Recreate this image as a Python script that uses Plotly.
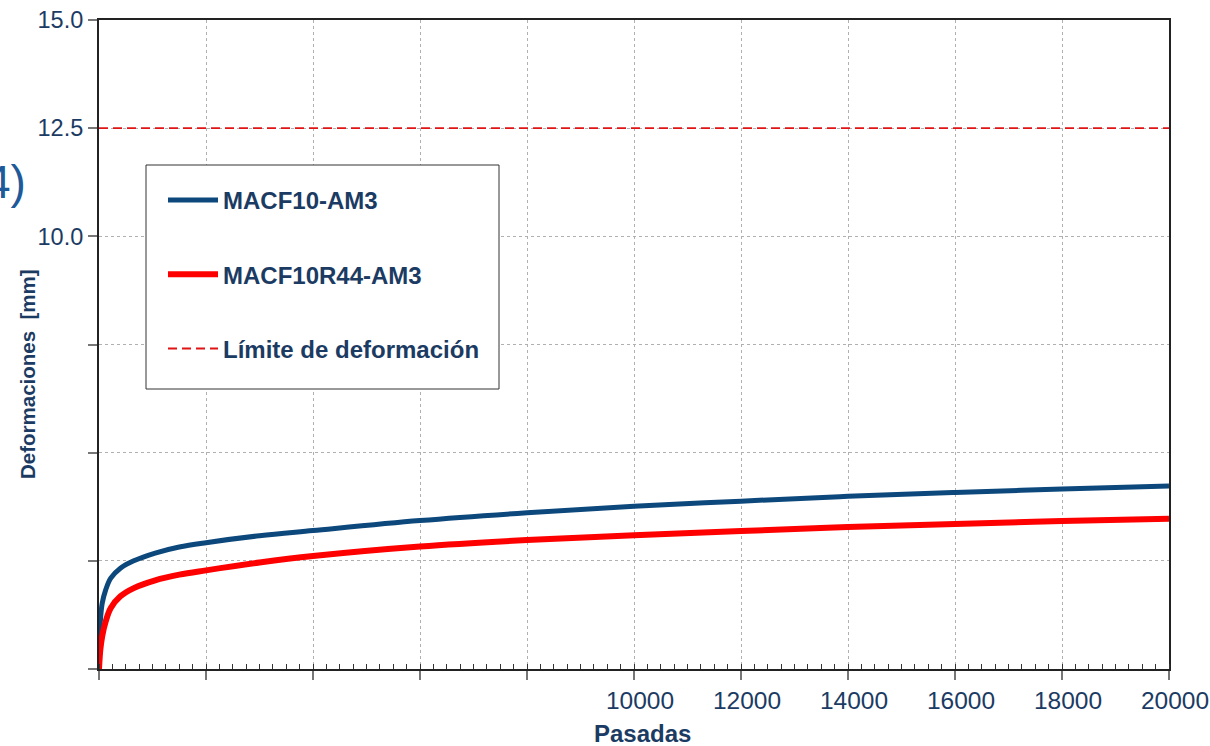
import plotly.graph_objects as go

# ---- data ----
passes = [0, 25, 60, 125, 220, 400, 650, 1050, 1500, 2000, 3000, 4000,
          6000, 8000, 10000, 12000, 14000, 16000, 18000, 20000]
macf10_am3 = [0, 1.10, 1.52, 1.83, 2.10, 2.33, 2.50, 2.68, 2.82, 2.92, 3.08, 3.20,
              3.43, 3.61, 3.76, 3.88, 3.99, 4.08, 4.16, 4.23]
macf10r44_am3 = [0, 0.45, 0.76, 1.10, 1.41, 1.68, 1.87, 2.05, 2.18, 2.28, 2.46, 2.61,
                 2.83, 2.98, 3.09, 3.19, 3.28, 3.35, 3.42, 3.47]
limit_x = [0, 20000]
limit_y = [12.5, 12.5]

x_tickvals = [0, 2000, 4000, 6000, 8000, 10000, 12000, 14000, 16000, 18000, 20000]
x_ticktext = ["", "", "", "", "", "10000", "12000", "14000", "16000", "18000", "20000"]
y_tickvals = [0, 2.5, 5, 7.5, 10, 12.5, 15]
y_ticktext = ["", "", "", "", "10.0", "12.5", "15.0"]

names = ["MACF10-AM3", "MACF10R44-AM3", "Límite de deformación"]

TXT = "#1b3b63"
BLUE = "#0d487c"
RED = "#ff0000"
FONT = "Liberation Sans, Arial, sans-serif"

fig = go.Figure()
fig.add_trace(go.Scatter(x=passes, y=macf10_am3, mode="lines", name=names[0],
                         legendgroup="a",
                         line=dict(color=BLUE, width=5, shape="spline", smoothing=1)))
fig.add_trace(go.Scatter(x=passes, y=macf10r44_am3, mode="lines", name=names[1],
                         legendgroup="b",
                         line=dict(color=RED, width=6, shape="spline", smoothing=1)))
fig.add_trace(go.Scatter(x=limit_x, y=limit_y, mode="lines", name=names[2],
                         legendgroup="c",
                         line=dict(color="#e01414", width=1.8, dash="9px,5px")))

L, R, T, B = 99, 41, 20, 77
W, H = 1210, 746
PW, PH = W - L - R, H - T - B


def px(xp):
    return (xp - L) / PW


def py(yp):
    return (H - B - yp) / PH


# legend frame
fig.add_shape(type="rect", xref="paper", yref="paper",
              x0=px(146), x1=px(499), y0=py(389), y1=py(165),
              line=dict(color="#333333", width=1), fillcolor="white", layer="above")

fig.update_layout(
    width=W, height=H,
    margin=dict(l=L, r=R, t=T, b=B, autoexpand=False),
    paper_bgcolor="white", plot_bgcolor="white",
    showlegend=True,
    legend=dict(x=px(163), y=py(178), xanchor="left", yanchor="top",
                bgcolor="rgba(0,0,0,0)", borderwidth=0,
                font=dict(family=FONT, size=24, color=TXT, weight="bold"),
                traceorder="grouped", tracegroupgap=40, itemwidth=50),
    xaxis=dict(range=[0, 20000], tickvals=x_tickvals, ticktext=x_ticktext,
               automargin=False,
               showline=True, linecolor="#222222", linewidth=2, mirror=True,
               ticks="outside", ticklen=9, tickwidth=2, tickcolor="#777777",
               showgrid=True, gridcolor="#b0b0b0", griddash="dot", gridwidth=1,
               minor=dict(dtick=250, ticks="inside", ticklen=5, tickwidth=1,
                          tickcolor="#333333", showgrid=False),
               tickfont=dict(family=FONT, size=24.5, color=TXT),
               ticklabelshift=6, ticklabeloverflow="allow",
               zeroline=False),
    yaxis=dict(range=[0, 15], tickvals=y_tickvals, ticktext=y_ticktext,
               automargin=False,
               showline=True, linecolor="#222222", linewidth=2, mirror=True,
               ticks="outside", ticklen=9, tickwidth=2, tickcolor="#777777",
               showgrid=True, gridcolor="#b0b0b0", griddash="dot", gridwidth=1,
               tickfont=dict(family=FONT, size=23.5, color=TXT),
               ticklabeloverflow="allow",
               zeroline=False),
)

fig.add_annotation(text="Pasadas", xref="paper", yref="paper",
                   x=px(642), y=py(733), xanchor="center", yanchor="middle",
                   showarrow=False,
                   font=dict(family=FONT, size=24, color=TXT, weight="bold"))
fig.add_annotation(text="Deformaciones  [mm]", xref="paper", yref="paper",
                   x=px(27), y=py(374), xanchor="center", yanchor="middle",
                   textangle=-90, showarrow=False,
                   font=dict(family=FONT, size=20.5, color=TXT, weight="bold"))
fig.add_annotation(text="4)", xref="paper", yref="paper",
                   x=px(28), y=py(182), xanchor="right", yanchor="middle",
                   showarrow=False,
                   font=dict(family=FONT, size=46, color="#1e5a99"))

fig.write_html("out.html", config={"displayModeBar": False},
               post_script="document.body.style.margin='0';document.body.style.padding='0';")
